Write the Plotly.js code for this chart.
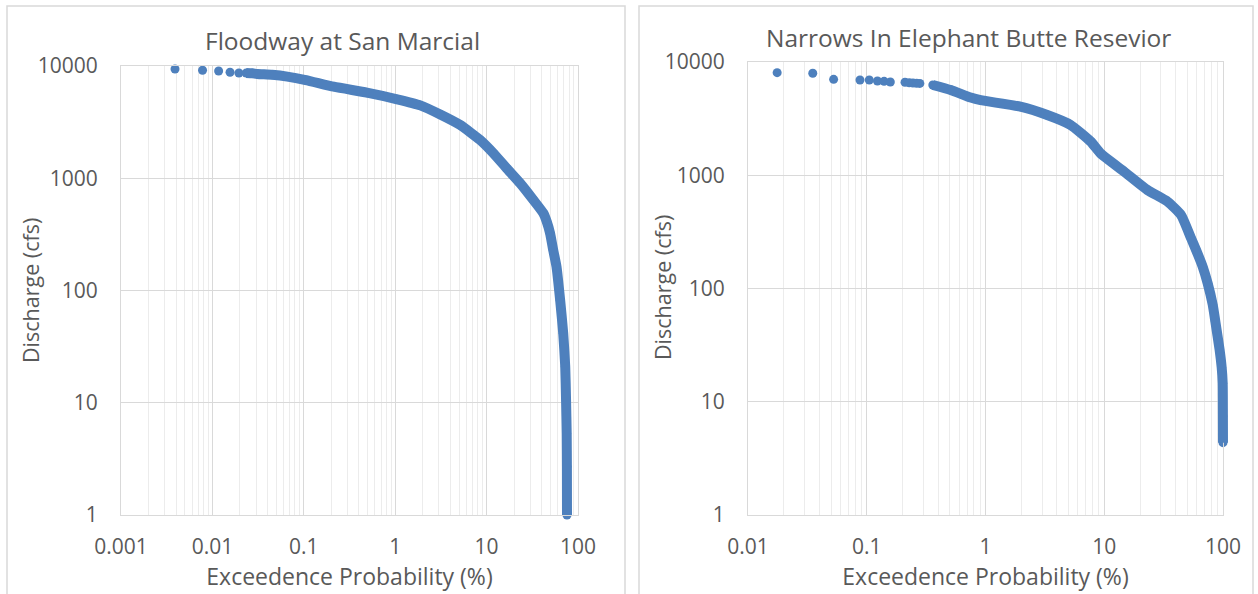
<!DOCTYPE html>
<html><head><meta charset="utf-8">
<script src="https://cdn.plot.ly/plotly-3.0.1.min.js"></script>
<style>html,body{margin:0;padding:0;background:#fff}#chart{width:1258px;height:594px}</style>
</head><body><div id="chart"></div>
<script>
// Floodway at San Marcial: exceedence probability (%) vs discharge (cfs)
const floodwayExceedPct = [0.0039, 0.0078, 0.0117, 0.0156, 0.0195, 0.0234, 0.0273, 0.031, 0.045, 0.066, 0.105, 0.213, 0.49, 1.05, 1.88, 3.11, 5.15, 8.5, 11.9, 16.6, 23.3, 32.5, 41.8, 45.5, 49.5, 53.5, 58.2, 63.8, 68.9, 72.5, 74, 75.2, 75.6, 75.8];
const floodwayDischargeCfs = [9400, 9160, 9030, 8790, 8670, 8650, 8600, 8490, 8350, 8050, 7500, 6540, 5780, 5050, 4460, 3700, 2980, 2190, 1667, 1225, 902, 640, 487, 410, 323, 230, 163, 82, 41.6, 21, 10.6, 5.3, 2.7, 1.0];
const floodwaySparseCount = 6;

// Narrows In Elephant Butte Resevior
const narrowsExceedPct = [0.0176, 0.0351, 0.0526, 0.0877, 0.105, 0.123, 0.14, 0.158, 0.21, 0.228, 0.245, 0.263, 0.28, 0.36, 0.51, 0.75, 0.91, 1.97, 3.31, 5.2, 7.7, 9.3, 14.7, 23.1, 34.1, 44.3, 53.7, 59.2, 67.4, 74.3, 81.9, 86, 93.7, 97.5, 99.4, 99.8, 99.98];
const narrowsDischargeCfs = [8050, 7950, 7030, 6930, 6930, 6790, 6750, 6660, 6620, 6560, 6530, 6490, 6470, 6270, 5660, 4850, 4600, 4030, 3400, 2780, 1980, 1560, 1077, 741, 585, 446, 280, 220, 156, 111, 72, 52, 28.6, 20, 14.6, 7.5, 4.35];
const narrowsSparseCount = 14;

const leftTickVals = [0.001, 0.01, 0.1, 1, 10, 100];
const leftTickText = ['0.001', '0.01', '0.1', '1', '10', '100'];
const rightTickVals = [0.01, 0.1, 1, 10, 100];
const rightTickText = ['0.01', '0.1', '1', '10', '100'];
const yTickVals = [1, 10, 100, 1000, 10000];
const yTickText = ['1', '10', '100', '1000', '10000'];
const chartTitles = ['Floodway at San Marcial', 'Narrows In Elephant Butte Resevior'];
const xTitle = 'Exceedence Probability (%)';
const yTitle = 'Discharge (cfs)';

const BLUE = '#4e80bd';
const TXT = '#595959';
const FONT = 'Open Sans, sans-serif';
const W = 1258, H = 594;
const px = v => v / W;
const py = v => (H - v) / H;

// plot-area pixel boxes [left, right, top, bottom] and log ranges
const panels = [
  {box: [121, 578, 66, 515], xr: [-3, 2], yr: [0, 4]},
  {box: [748, 1223, 62, 515], xr: [-2, 2], yr: [0, 4]}
];
const PAD = 12; // unclipped room for the thick line

function padded(p) {
  const [l, r, t, b] = p.box;
  const xs = (p.xr[1] - p.xr[0]) / (r - l), ys = (p.yr[1] - p.yr[0]) / (b - t);
  return {
    xd: [px(l - PAD), px(r + PAD)], xr: [p.xr[0] - PAD * xs, p.xr[1] + PAD * xs],
    yd: [py(b + PAD), py(t - PAD)], yr: [p.yr[0] - PAD * ys, p.yr[1] + PAD * ys]
  };
}

function lineTrace(x, y, sparse, xa, ya) {
  return {x: x.slice(sparse - 1), y: y.slice(sparse - 1), xaxis: xa, yaxis: ya, mode: 'lines',
    line: {color: BLUE, width: 10, shape: 'spline', smoothing: 0.5}, hoverinfo: 'skip', showlegend: false};
}
function markerTrace(x, y, xa, ya) {
  return {x: x, y: y, xaxis: xa, yaxis: ya, mode: 'markers',
    marker: {color: BLUE, size: 9}, showlegend: false, cliponaxis: false};
}

const data = [
  markerTrace(floodwayExceedPct, floodwayDischargeCfs, 'x', 'y'),
  markerTrace(narrowsExceedPct, narrowsDischargeCfs, 'x2', 'y2'),
  lineTrace(floodwayExceedPct, floodwayDischargeCfs, floodwaySparseCount, 'x3', 'y3'),
  lineTrace(narrowsExceedPct, narrowsDischargeCfs, narrowsSparseCount, 'x4', 'y4')
];

function xAxis(p, tv, tt, anchor) {
  return {
    domain: [px(p.box[0]), px(p.box[1])], type: 'log', range: p.xr, anchor: anchor,
    tickmode: 'array', tickvals: tv, ticktext: tt,
    showgrid: true, gridcolor: '#d9d9d9', gridwidth: 1,
    minor: {dtick: 'D1', showgrid: true, gridcolor: '#ececec', gridwidth: 1, ticks: ''},
    showline: true, mirror: true, linecolor: '#d9d9d9', linewidth: 1,
    ticks: '', ticklabelstandoff: 13, zeroline: false,
    tickfont: {family: FONT, size: 21, color: TXT},
    title: {text: xTitle, font: {family: FONT, size: 23, color: TXT}, standoff: 3}
  };
}
function yAxis(p, anchor) {
  return {
    domain: [py(p.box[3]), py(p.box[2])], type: 'log', range: p.yr, anchor: anchor,
    tickmode: 'array', tickvals: yTickVals, ticktext: yTickText,
    showgrid: true, gridcolor: '#d9d9d9', gridwidth: 1,
    showline: true, mirror: true, linecolor: '#d9d9d9', linewidth: 1,
    ticks: '', ticklabelstandoff: 18, zeroline: false,
    tickfont: {family: FONT, size: 21, color: TXT}
  };
}
function hiddenX(p, anchor) {
  const q = padded(p);
  return {domain: q.xd, range: q.xr, type: 'log', anchor: anchor, visible: false, showgrid: false, zeroline: false};
}
function hiddenY(p, anchor) {
  const q = padded(p);
  return {domain: q.yd, range: q.yr, type: 'log', anchor: anchor, visible: false, showgrid: false, zeroline: false};
}

const layout = {
  width: W, height: H,
  margin: {l: 0, r: 0, t: 0, b: 0, pad: 0},
  paper_bgcolor: '#ffffff', plot_bgcolor: 'rgba(0,0,0,0)',
  font: {family: FONT, color: TXT},
  xaxis: xAxis(panels[0], leftTickVals, leftTickText, 'y'),
  yaxis: yAxis(panels[0], 'x'),
  xaxis2: xAxis(panels[1], rightTickVals, rightTickText, 'y2'),
  yaxis2: yAxis(panels[1], 'x2'),
  xaxis3: hiddenX(panels[0], 'y3'),
  yaxis3: hiddenY(panels[0], 'x3'),
  xaxis4: hiddenX(panels[1], 'y4'),
  yaxis4: hiddenY(panels[1], 'x4'),
  shapes: [
    {type: 'rect', xref: 'paper', yref: 'paper', x0: px(7), x1: px(625), y0: py(610), y1: py(6), line: {color: '#d9d9d9', width: 1.5}, layer: 'below'},
    {type: 'rect', xref: 'paper', yref: 'paper', x0: px(639), x1: px(1253), y0: py(610), y1: py(6), line: {color: '#d9d9d9', width: 1.5}, layer: 'below'}
  ],
  annotations: [
    {text: chartTitles[0], xref: 'paper', yref: 'paper', x: px(342), y: py(40), xanchor: 'center', yanchor: 'middle', showarrow: false, font: {family: FONT, size: 24.5, color: TXT}},
    {text: chartTitles[1], xref: 'paper', yref: 'paper', x: px(968), y: py(37), xanchor: 'center', yanchor: 'middle', showarrow: false, font: {family: FONT, size: 24.5, color: TXT}},
    {text: yTitle, xref: 'paper', yref: 'paper', x: px(30), y: py(291), xanchor: 'center', yanchor: 'middle', textangle: -90, showarrow: false, font: {family: FONT, size: 21.5, color: TXT}},
    {text: yTitle, xref: 'paper', yref: 'paper', x: px(662), y: py(288), xanchor: 'center', yanchor: 'middle', textangle: -90, showarrow: false, font: {family: FONT, size: 21.5, color: TXT}}
  ]
};

Plotly.newPlot('chart', data, layout, {displayModeBar: false, staticPlot: true});
</script>
</body></html>
